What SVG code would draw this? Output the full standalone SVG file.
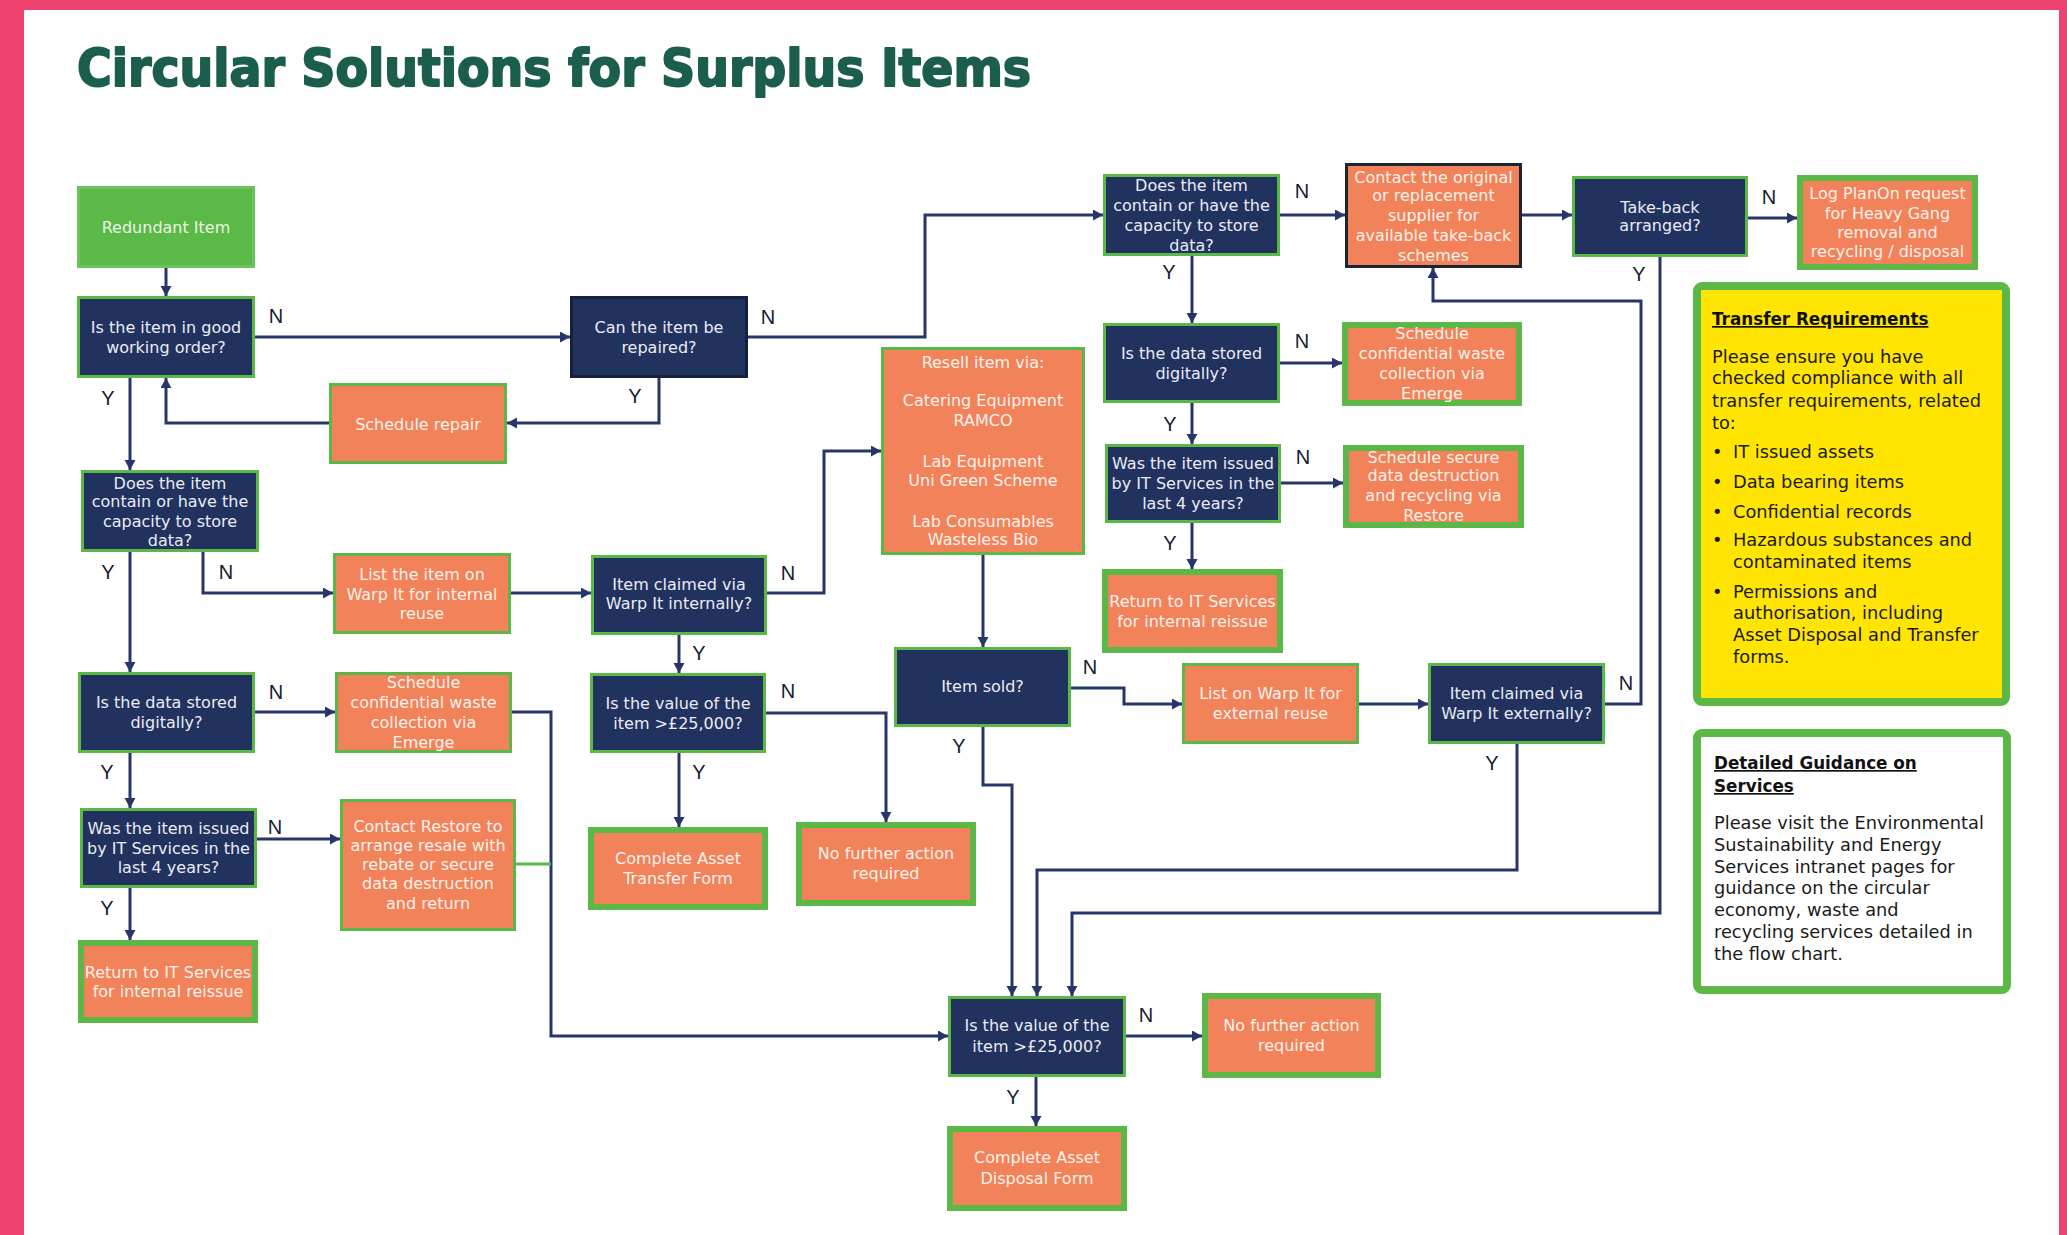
<svg xmlns="http://www.w3.org/2000/svg" width="2067" height="1235" viewBox="0 0 2067 1235">
<style>
.nv{fill:#22325F;stroke:#5BB846;stroke-width:3}
.nvd{fill:#22325F;stroke:#14213A;stroke-width:3}
.or{fill:#F2825A;stroke:#5BB846;stroke-width:3}
.ort{fill:#F2825A;stroke:#5BB846;stroke-width:6}
.ord{fill:#F2825A;stroke:#1B2433;stroke-width:3}
.gr{fill:#5BB947;stroke:#6CC25B;stroke-width:3}
text{font-family:"DejaVu Sans","Liberation Sans",sans-serif}
.tn{font-size:16px;fill:#E9ECF4;text-anchor:middle}
.to{font-size:16px;fill:#FFF2EC;text-anchor:middle}
.tg{font-size:16px;fill:#EAF6E4;text-anchor:middle}
.lbl{font-family:"Liberation Sans",Arial,sans-serif;font-size:20px;fill:#161C30;text-anchor:middle}
.cn{fill:none;stroke:#26366A;stroke-width:3}
.cg{fill:none;stroke:#5BB846;stroke-width:3}
.hd{font-size:16.8px;font-weight:bold;fill:#111;text-decoration:underline}
.bd{font-size:17.8px;fill:#1A1A1A}
</style>
<defs>
<marker id="ah" markerUnits="userSpaceOnUse" markerWidth="12" markerHeight="12" refX="10" refY="5.5" orient="auto">
<path d="M0,0 L10,5.5 L0,11 z" fill="#26366A"/>
</marker>
</defs>
<rect x="0" y="0" width="2067" height="1235" fill="#EE4271"/>
<rect x="24" y="10" width="2035" height="1225" fill="#FFFFFF"/>
<text x="77" y="86" font-size="51" font-weight="bold" fill="#1B5E4D" stroke="#1B5E4D" stroke-width="2" stroke-linejoin="round" textLength="954" lengthAdjust="spacingAndGlyphs">Circular Solutions for Surplus Items</text>

<g id="connectors">
<path class="cn" d="M166,268 V296" marker-end="url(#ah)"/>
<path class="cn" d="M255,337 H570" marker-end="url(#ah)"/>
<path class="cn" d="M748,337 H925 V215 H1103" marker-end="url(#ah)"/>
<path class="cn" d="M659,378 V423 H507" marker-end="url(#ah)"/>
<path class="cn" d="M329,423 H166 V378" marker-end="url(#ah)"/>
<path class="cn" d="M130,378 V470" marker-end="url(#ah)"/>
<path class="cn" d="M203,552 V593 H333" marker-end="url(#ah)"/>
<path class="cn" d="M130,552 V672" marker-end="url(#ah)"/>
<path class="cn" d="M511,593 H591" marker-end="url(#ah)"/>
<path class="cn" d="M767,593 H824 V451 H881" marker-end="url(#ah)"/>
<path class="cn" d="M679,635 V673" marker-end="url(#ah)"/>
<path class="cn" d="M766,713 H886 V822" marker-end="url(#ah)"/>
<path class="cn" d="M679,753 V827" marker-end="url(#ah)"/>
<path class="cn" d="M983,555 V647" marker-end="url(#ah)"/>
<path class="cn" d="M1071,688 H1124 V704 H1182" marker-end="url(#ah)"/>
<path class="cn" d="M1359,704 H1428" marker-end="url(#ah)"/>
<path class="cn" d="M1605,704 H1641 V301 H1433 V268" marker-end="url(#ah)"/>
<path class="cn" d="M1517,744 V870 H1037 V996" marker-end="url(#ah)"/>
<path class="cn" d="M983,727 V785 H1012 V996" marker-end="url(#ah)"/>
<path class="cn" d="M1660,257 V913 H1072 V996" marker-end="url(#ah)"/>
<path class="cn" d="M255,712 H335" marker-end="url(#ah)"/>
<path class="cn" d="M512,712 H551 V1036 H948" marker-end="url(#ah)"/>
<path class="cg" d="M516,864 H551"/>
<path class="cn" d="M130,753 V808" marker-end="url(#ah)"/>
<path class="cn" d="M257,839 H340" marker-end="url(#ah)"/>
<path class="cn" d="M130,888 V940" marker-end="url(#ah)"/>
<path class="cn" d="M1280,215 H1345" marker-end="url(#ah)"/>
<path class="cn" d="M1192,256 V323" marker-end="url(#ah)"/>
<path class="cn" d="M1280,363 H1342" marker-end="url(#ah)"/>
<path class="cn" d="M1192,403 V444" marker-end="url(#ah)"/>
<path class="cn" d="M1281,483 H1343" marker-end="url(#ah)"/>
<path class="cn" d="M1192,523 V569" marker-end="url(#ah)"/>
<path class="cn" d="M1522,215 H1572" marker-end="url(#ah)"/>
<path class="cn" d="M1748,218 H1797" marker-end="url(#ah)"/>
<path class="cn" d="M1126,1036 H1202" marker-end="url(#ah)"/>
<path class="cn" d="M1036,1077 V1126" marker-end="url(#ah)"/>
<g id="labels">
<text class="lbl" x="276" y="323">N</text>
<text class="lbl" x="108" y="405">Y</text>
<text class="lbl" x="768" y="324">N</text>
<text class="lbl" x="635" y="403">Y</text>
<text class="lbl" x="108" y="579">Y</text>
<text class="lbl" x="226" y="579">N</text>
<text class="lbl" x="276" y="699">N</text>
<text class="lbl" x="107" y="779">Y</text>
<text class="lbl" x="275" y="834">N</text>
<text class="lbl" x="107" y="915">Y</text>
<text class="lbl" x="788" y="580">N</text>
<text class="lbl" x="699" y="660">Y</text>
<text class="lbl" x="788" y="698">N</text>
<text class="lbl" x="699" y="779">Y</text>
<text class="lbl" x="1090" y="674">N</text>
<text class="lbl" x="959" y="753">Y</text>
<text class="lbl" x="1626" y="690">N</text>
<text class="lbl" x="1492" y="770">Y</text>
<text class="lbl" x="1302" y="198">N</text>
<text class="lbl" x="1169" y="279">Y</text>
<text class="lbl" x="1302" y="348">N</text>
<text class="lbl" x="1170" y="431">Y</text>
<text class="lbl" x="1303" y="464">N</text>
<text class="lbl" x="1170" y="550">Y</text>
<text class="lbl" x="1769" y="204">N</text>
<text class="lbl" x="1639" y="281">Y</text>
<text class="lbl" x="1146" y="1022">N</text>
<text class="lbl" x="1013" y="1104">Y</text>
</g>
</g>

<g id="redundant-item"><rect class="gr" x="78.5" y="187.5" width="175" height="79"/><text class="tg" x="166" y="233">Redundant Item</text></g>
<g id="good-working-order"><rect class="nv" x="78.5" y="297.5" width="175" height="79"/><text class="tn" x="166" y="333">Is the item in good</text><text class="tn" x="166" y="353">working order?</text></g>
<g id="schedule-repair"><rect class="or" x="330.5" y="384.5" width="175" height="78"/><text class="to" x="418" y="430">Schedule repair</text></g>
<g id="can-repair"><rect class="nvd" x="571.5" y="297.5" width="175" height="79"/><text class="tn" x="659" y="333">Can the item be</text><text class="tn" x="659" y="353">repaired?</text></g>
<g id="store-data-left"><rect class="nv" x="82.5" y="471.5" width="175" height="79"/><text class="tn" x="170" y="489">Does the item</text><text class="tn" x="170" y="507">contain or have the</text><text class="tn" x="170" y="527">capacity to store</text><text class="tn" x="170" y="546">data?</text></g>
<g id="list-internal"><rect class="or" x="334.5" y="554.5" width="175" height="78"/><text class="to" x="422" y="580">List the item on</text><text class="to" x="422" y="600">Warp It for internal</text><text class="to" x="422" y="619">reuse</text></g>
<g id="claimed-internal"><rect class="nv" x="592.5" y="556.5" width="173" height="77"/><text class="tn" x="679" y="590">Item claimed via</text><text class="tn" x="679" y="609">Warp It internally?</text></g>
<g id="resell"><rect class="or" x="882.5" y="348.5" width="201" height="205"/><text class="to" x="983" y="368">Resell item via:</text><text class="to" x="983" y="406">Catering Equipment</text><text class="to" x="983" y="426">RAMCO</text><text class="to" x="983" y="467">Lab Equipment</text><text class="to" x="983" y="486">Uni Green Scheme</text><text class="to" x="983" y="527">Lab Consumables</text><text class="to" x="983" y="545">Wasteless Bio</text></g>
<g id="data-digital-left"><rect class="nv" x="79.5" y="673.5" width="174" height="78"/><text class="tn" x="166.5" y="708">Is the data stored</text><text class="tn" x="166.5" y="728">digitally?</text></g>
<g id="conf-waste-left"><rect class="or" x="336.5" y="673.5" width="174" height="78"/><text class="to" x="423.5" y="688">Schedule</text><text class="to" x="423.5" y="708">confidential waste</text><text class="to" x="423.5" y="728">collection via</text><text class="to" x="423.5" y="748">Emerge</text></g>
<g id="value-mid"><rect class="nv" x="591.5" y="674.5" width="173" height="77"/><text class="tn" x="678" y="709">Is the value of the</text><text class="tn" x="678" y="729">item &gt;£25,000?</text></g>
<g id="it-issued-left"><rect class="nv" x="81.5" y="809.5" width="174" height="77"/><text class="tn" x="168.5" y="834">Was the item issued</text><text class="tn" x="168.5" y="854">by IT Services in the</text><text class="tn" x="168.5" y="873">last 4 years?</text></g>
<g id="contact-restore"><rect class="or" x="341.5" y="800.5" width="173" height="129"/><text class="to" x="428" y="832">Contact Restore to</text><text class="to" x="428" y="851">arrange resale with</text><text class="to" x="428" y="870">rebate or secure</text><text class="to" x="428" y="889">data destruction</text><text class="to" x="428" y="909">and return</text></g>
<g id="return-it-left"><rect class="ort" x="81" y="943" width="174" height="77"/><text class="to" x="168" y="978">Return to IT Services</text><text class="to" x="168" y="997">for internal reissue</text></g>
<g id="asset-transfer"><rect class="ort" x="591" y="830" width="174" height="77"/><text class="to" x="678" y="864">Complete Asset</text><text class="to" x="678" y="884">Transfer Form</text></g>
<g id="no-action-mid"><rect class="ort" x="799" y="825" width="174" height="78"/><text class="to" x="886" y="859">No further action</text><text class="to" x="886" y="879">required</text></g>
<g id="item-sold"><rect class="nv" x="895.5" y="648.5" width="174" height="77"/><text class="tn" x="982.5" y="692">Item sold?</text></g>
<g id="list-external"><rect class="or" x="1183.5" y="664.5" width="174" height="78"/><text class="to" x="1270.5" y="699">List on Warp It for</text><text class="to" x="1270.5" y="719">external reuse</text></g>
<g id="claimed-external"><rect class="nv" x="1429.5" y="664.5" width="174" height="78"/><text class="tn" x="1516.5" y="699">Item claimed via</text><text class="tn" x="1516.5" y="719">Warp It externally?</text></g>
<g id="store-data-top"><rect class="nv" x="1104.5" y="175.5" width="174" height="79"/><text class="tn" x="1191.5" y="191">Does the item</text><text class="tn" x="1191.5" y="211">contain or have the</text><text class="tn" x="1191.5" y="231">capacity to store</text><text class="tn" x="1191.5" y="251">data?</text></g>
<g id="contact-supplier"><rect class="ord" x="1346.5" y="164.5" width="174" height="102"/><text class="to" x="1433.5" y="183">Contact the original</text><text class="to" x="1433.5" y="201">or replacement</text><text class="to" x="1433.5" y="221">supplier for</text><text class="to" x="1433.5" y="241">available take-back</text><text class="to" x="1433.5" y="261">schemes</text></g>
<g id="take-back"><rect class="nv" x="1573.5" y="177.5" width="173" height="78"/><text class="tn" x="1660" y="213">Take-back</text><text class="tn" x="1660" y="231">arranged?</text></g>
<g id="log-planon"><rect class="ort" x="1800" y="178" width="175" height="89"/><text class="to" x="1887.5" y="199">Log PlanOn request</text><text class="to" x="1887.5" y="219">for Heavy Gang</text><text class="to" x="1887.5" y="238">removal and</text><text class="to" x="1887.5" y="257">recycling / disposal</text></g>
<g id="data-digital-right"><rect class="nv" x="1104.5" y="324.5" width="174" height="77"/><text class="tn" x="1191.5" y="359">Is the data stored</text><text class="tn" x="1191.5" y="379">digitally?</text></g>
<g id="conf-waste-right"><rect class="ort" x="1345" y="325" width="174" height="78"/><text class="to" x="1432" y="339">Schedule</text><text class="to" x="1432" y="359">confidential waste</text><text class="to" x="1432" y="379">collection via</text><text class="to" x="1432" y="399">Emerge</text></g>
<g id="it-issued-right"><rect class="nv" x="1106.5" y="445.5" width="173" height="76"/><text class="tn" x="1193" y="469">Was the item issued</text><text class="tn" x="1193" y="489">by IT Services in the</text><text class="tn" x="1193" y="509">last 4 years?</text></g>
<g id="secure-destruction"><rect class="ort" x="1346" y="448" width="175" height="77"/><text class="to" x="1433.5" y="463">Schedule secure</text><text class="to" x="1433.5" y="481">data destruction</text><text class="to" x="1433.5" y="501">and recycling via</text><text class="to" x="1433.5" y="521">Restore</text></g>
<g id="return-it-right"><rect class="ort" x="1105" y="572" width="175" height="78"/><text class="to" x="1192.5" y="607">Return to IT Services</text><text class="to" x="1192.5" y="627">for internal reissue</text></g>
<g id="value-bottom"><rect class="nv" x="949.5" y="997.5" width="175" height="78"/><text class="tn" x="1037" y="1031">Is the value of the</text><text class="tn" x="1037" y="1052">item &gt;£25,000?</text></g>
<g id="no-action-bottom"><rect class="ort" x="1205" y="996" width="173" height="79"/><text class="to" x="1291.5" y="1031">No further action</text><text class="to" x="1291.5" y="1051">required</text></g>
<g id="asset-disposal"><rect class="ort" x="950" y="1129" width="174" height="79"/><text class="to" x="1037" y="1163">Complete Asset</text><text class="to" x="1037" y="1184">Disposal Form</text></g>

<g id="transfer-requirements">
<rect x="1697" y="286" width="309" height="416" rx="5" fill="#FFE500" stroke="#5BB846" stroke-width="8"/>
<text class="hd" x="1712" y="325">Transfer Requirements</text>
<text class="bd" x="1712" y="363">Please ensure you have</text>
<text class="bd" x="1712" y="384">checked compliance with all</text>
<text class="bd" x="1712" y="407">transfer requirements, related</text>
<text class="bd" x="1712" y="429">to:</text>
<text class="bd" x="1712" y="458">•</text><text class="bd" x="1733" y="458">IT issued assets</text>
<text class="bd" x="1712" y="488">•</text><text class="bd" x="1733" y="488">Data bearing items</text>
<text class="bd" x="1712" y="518">•</text><text class="bd" x="1733" y="518">Confidential records</text>
<text class="bd" x="1712" y="546">•</text><text class="bd" x="1733" y="546">Hazardous substances and</text>
<text class="bd" x="1733" y="568">contaminated items</text>
<text class="bd" x="1712" y="598">•</text><text class="bd" x="1733" y="598">Permissions and</text>
<text class="bd" x="1733" y="619">authorisation, including</text>
<text class="bd" x="1733" y="641">Asset Disposal and Transfer</text>
<text class="bd" x="1733" y="663">forms.</text>
</g>

<g id="detailed-guidance">
<rect x="1697" y="733" width="310" height="257" rx="5" fill="#FFFFFF" stroke="#5BB846" stroke-width="8"/>
<text class="hd" x="1714" y="769">Detailed Guidance on</text>
<text class="hd" x="1714" y="792">Services</text>
<text class="bd" x="1714" y="829">Please visit the Environmental</text>
<text class="bd" x="1714" y="851">Sustainability and Energy</text>
<text class="bd" x="1714" y="873">Services intranet pages for</text>
<text class="bd" x="1714" y="894">guidance on the circular</text>
<text class="bd" x="1714" y="916">economy, waste and</text>
<text class="bd" x="1714" y="938">recycling services detailed in</text>
<text class="bd" x="1714" y="960">the flow chart.</text>
</g>
</svg>
